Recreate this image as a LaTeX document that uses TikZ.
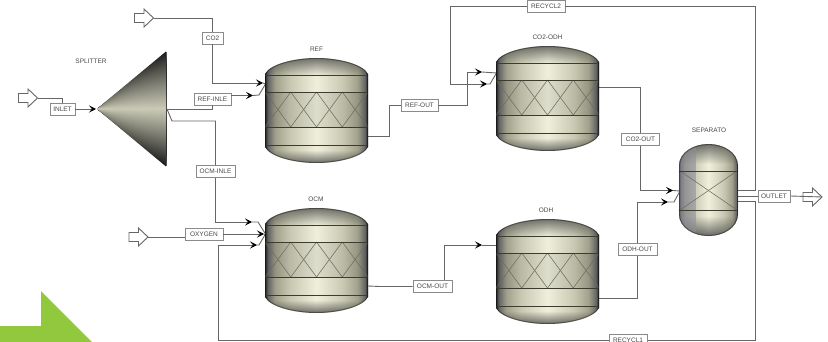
\documentclass[tikz,border=0pt]{standalone}
\usepackage{fontspec}
\setmainfont{Liberation Sans}
\usetikzlibrary{arrows.meta,fadings,calc}
\definecolor{linegray}{HTML}{666666}
\definecolor{boxgray}{HTML}{8A8A8A}
\definecolor{txtgray}{HTML}{484848}
\definecolor{inkline}{HTML}{3C3C2E}
\definecolor{leaf}{HTML}{92C83E}
\definecolor{tan1}{HTML}{C8C8B2}
\definecolor{tan2}{HTML}{EFEFDC}
\definecolor{tan3}{HTML}{A0A08C}
\definecolor{sepband}{HTML}{8E8E9C}
\pgfdeclarehorizontalshading{vesselh}{100bp}{
 color(0bp)=(black!85); color(25bp)=(black!85);
 color(26.5bp)=(black!60);
 color(30bp)=(tan3);
 color(37bp)=(tan1); color(50bp)=(tan2); color(63bp)=(tan1);
 color(70bp)=(tan3); color(73.5bp)=(black!60); color(75bp)=(black!90); color(100bp)=(black!90)}
\tikzfading[name=fdtop, top color=transparent!25, bottom color=transparent!100]
\tikzfading[name=fdbot, top color=transparent!100, bottom color=transparent!20]
\tikzfading[name=fdapex, left color=transparent!40, right color=transparent!100]
\tikzset{
  conn/.style={draw=linegray,line width=0.9pt,line join=miter},
  tipped/.style={conn,-{Stealth[length=7pt,width=7pt,inset=3pt,black]}},
  tag/.style={draw=boxgray,line width=0.9pt,fill=white,text=txtgray,font=\fontsize{6.5}{7}\selectfont,
     inner sep=0pt,minimum height=12pt},
  caption/.style={text=txtgray,font=\fontsize{6.5}{7}\selectfont,inner sep=0pt},
  feedshape/.style={draw=linegray,line width=0.9pt,fill=white,line join=miter},
  inkrule/.style={draw=inkline,line width=0.7pt},
  lattice/.style={draw=inkline!75!white,line width=0.55pt}
}
% feed arrow: left edge x, centre y; tip coordinate named #1
\newcommand{\feedarrow}[3]{%
  \draw[feedshape] (#2,#3-4.5) -- (#2+9.5,#3-4.5) -- (#2+9.5,#3-9) -- (#2+19,#3)
     -- (#2+9.5,#3+9) -- (#2+9.5,#3+4.5) -- (#2,#3+4.5) -- cycle;
  \coordinate (#1) at (#2+19,#3);}
% reactor: left x, top y
\newcommand{\reactor}[2]{%
  \begin{scope}[shift={(#1,#2)}]
    \def\bodypath{(0,16) .. controls (5,6) and (30,0) .. (51.5,0) .. controls (73,0) and (98,6) .. (103,16)
       -- (103,89) .. controls (98,99) and (73,105) .. (51.5,105) .. controls (30,105) and (5,99) .. (0,89) -- cycle}
    \shade[shading=vesselh] \bodypath;
    \begin{scope}
      \clip \bodypath;
      \fill[black!75,path fading=fdtop] (-1,-1) rectangle (104,17);
      \fill[black!75,path fading=fdbot] (-1,92) rectangle (104,106);
      \fill[black,opacity=0.07] (0,34) rectangle (103,69);
      \foreach \k in {0,1,2,3}{
        \draw[lattice] ({\k*25.75},34) -- ({(\k+1)*25.75},69);
        \draw[lattice] ({\k*25.75},69) -- ({(\k+1)*25.75},34);
      }
      \draw[inkrule] (0,17) -- (103,17);
      \draw[inkrule] (0,34) -- (103,34);
      \draw[inkrule] (0,69) -- (103,69);
      \draw[inkrule] (0,87) -- (103,87);
      \draw[black,opacity=0.35,line width=2pt] \bodypath;
    \end{scope}
  \end{scope}}
\begin{document}
\begin{tikzpicture}[x=1pt,y=-1pt]
\useasboundingbox (0,0) rectangle (828,342);
\fill[white] (0,0) rectangle (828,342);
% green corner arrow
\fill[leaf] (0,326) -- (41,326) -- (41,291) -- (92,342) -- (0,342) -- cycle;

% feed arrows
\feedarrow{feedin}{18.5}{98}
\feedarrow{feedco}{134.5}{18}
\feedarrow{feedox}{129}{237}
\feedarrow{feedout}{803}{197}

% ports
\coordinate (splitin) at (97,109);
\coordinate (splitout) at (167,109);
\coordinate (refin) at (265.5,84);
\coordinate (refout) at (368,136);
\coordinate (ocmin) at (265.5,234);
\coordinate (ocmout) at (368,286);
\coordinate (coin) at (496.5,73);
\coordinate (coout) at (599,87);
\coordinate (odhin) at (496.5,245);
\coordinate (odhout) at (599,298);
\coordinate (sepin) at (680,191);

% tags
\node[tag,minimum width=25pt] (inlet) at (62.5,109) {INLET};
\node[tag,minimum width=21pt] (co2) at (212.5,38) {CO2};
\node[tag,minimum width=37pt] (refinle) at (212.5,99) {REF-INLE};
\node[tag,minimum width=39pt] (ocminle) at (215.5,171.5) {OCM-INLE};
\node[tag,minimum width=38pt] (oxygen) at (204,234) {OXYGEN};
\node[tag,minimum width=37pt] (refoutb) at (419.5,105) {REF-OUT};
\node[tag,minimum width=39pt] (ocmoutb) at (432.5,286.5) {OCM-OUT};
\node[tag,minimum width=38pt] (cooutb) at (640.5,139.5) {CO2-OUT};
\node[tag,minimum width=39pt] (odhoutb) at (637.5,249.5) {ODH-OUT};
\node[tag,minimum width=32pt] (outlet) at (774,196) {OUTLET};
\node[tag,minimum width=38pt] (recy2) at (546,6) {RECYCL2};
\node[tag,minimum width=38pt] (recy1) at (628,340) {RECYCL1};

% connectors
\draw[conn] (feedin) -| (inlet.north);
\draw[tipped] (inlet.east) -- (96,109);
\draw[conn] (feedco) -| (co2.north);
\draw[tipped] (co2.south) |- (263,83);
\draw[conn] (263,83) -- (refin);
\draw[conn] (splitout) -| (refinle.south);
\draw[tipped] (refinle.east) ++(0,-3.5) -- (253,95.5);
\draw[conn] (253,95.5) -- (259,95) -- (refin);
\draw[conn] (splitout) -- (172,121) -| (ocminle.north);
\draw[tipped] (ocminle.south) |- (252,222);
\draw[conn] (252,222) -- (258,222) -- (ocmin);
\draw[conn] (feedox) -- (oxygen.west |- feedox);
\draw[tipped] (oxygen.east) -- (264,234);
\draw[conn] (264,234) -- (ocmin);
\draw[tipped] (755.5,201) -- (755.5,340) -- (218,340) -- (218,245) -- (257,245);
\draw[conn] (257,245) -- (259,245) -- (ocmin);
\draw[conn] (738,201) -- (755.5,201);
\draw[conn] (738,190.5) -- (755.5,190.5) |- (recy2.east);
\draw[tipped] (recy2.west) -- (450,6) -- (450,84) -- (487,84);
\draw[conn] (487,84) -- (490,84) -- (coin);
\draw[conn] (refout) -- (389,136) |- (refoutb.west);
\draw[tipped] (refoutb.east) -- (467,105) -- (467,72) -- (482,72);
\draw[conn] (482,72) -- (coin);
\draw[conn] (ocmout) -- (380,286.5) -- (ocmoutb.west);
\draw[tipped] (ocmoutb.north -| 444,0) -- (444,245) -- (482,245);
\draw[conn] (482,245) -- (odhin);
\draw[conn] (coout) -| (cooutb.north);
\draw[tipped] (cooutb.south) |- (673,190.5);
\draw[conn] (673,190.5) -- (sepin);
\draw[conn] (odhout) -| (odhoutb.south);
\draw[tipped] (odhoutb.north) |- (668,202);
\draw[conn] (668,202) -- (674,202) -- (sepin);
\draw[conn] (738,196) -- (outlet.west);
\draw[conn] (outlet.east) -- (feedout);
\node[tag,minimum width=38pt] at (recy1) {RECYCL1};

% splitter: nested triangles, dark outside to light on the axis
\foreach \k in {0,...,40}{
  \pgfmathsetmacro{\s}{1-\k/40}
  \pgfmathsetmacro{\mixv}{100*(1-\s)^0.9}
  \fill[color=tan1!\mixv!black!90] (97,109) -- (166,{109-57.5*\s}) -- (166,{109+57.5*\s}) -- cycle;
}
\fill[tan1,path fading=fdapex] (97,109) -- (166,51.5) -- (166,166.5) -- cycle;
\draw[black,opacity=0.55,line width=0.9pt] (166,52) -- (166,166);

% reactors
\reactor{265}{58}
\reactor{265}{208}
\reactor{496}{46}
\reactor{496}{219}

% separator
\begin{scope}[shift={(679,144)}]
  \def\sepath{(0,22) .. controls (0,8) and (15,0) .. (29.5,0) .. controls (44,0) and (59,8) .. (59,22)
     -- (59,70) .. controls (59,84) and (44,92) .. (29.5,92) .. controls (15,92) and (0,84) .. (0,70) -- cycle}
  \shade[shading=vesselh] \sepath;
  \begin{scope}
    \clip \sepath;
    \fill[black!75,path fading=fdtop] (-1,-1) rectangle (60,20);
    \fill[black!75,path fading=fdbot] (-1,72) rectangle (60,93);
    \fill[sepband,opacity=0.6] (0,-1) rectangle (17,93);
    \draw[lattice] (1,27) -- (58,66);
    \draw[lattice] (1,66) -- (58,27);
    \draw[inkrule] (0,27) -- (59,27);
    \draw[inkrule] (0,66) -- (59,66);
    \draw[black,opacity=0.35,line width=2pt] \sepath;
  \end{scope}
\end{scope}

% captions
\node[caption] (capsplit) at (91,61) {SPLITTER};
\node[caption] (capref) at (316.5,49) {REF};
\node[caption] (capocm) at (316,199) {OCM};
\node[caption] (capco) at (547.5,37.5) {CO2-ODH};
\node[caption] (capodh) at (546,210) {ODH};
\node[caption] (capsep) at (709,130) {SEPARATO};
\end{tikzpicture}
\end{document}
